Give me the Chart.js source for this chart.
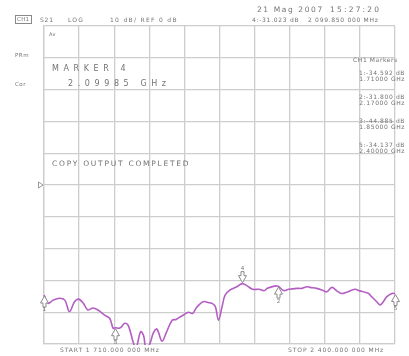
<!DOCTYPE html>
<html>
<head>
<meta charset="utf-8">
<title>S21 LOG</title>
<script src="https://cdn.jsdelivr.net/npm/chart.js@4"></script>
<style>
  html, body { margin: 0; padding: 0; background: #fff; }
  #wrap { width: 409px; height: 356px; }
</style>
</head>
<body>
<div id="wrap"><canvas id="s21" width="409" height="356"></canvas></div>
<script>
// sweep and trace (MHz / dB)
const freqStart = 1710;
const freqStop = 2400;
const refLevel = 0;     // dB
const dbPerDiv = 10;
const refPos = 5;       // division of the reference line

const freqMHz = [1710, 1718, 1728, 1741, 1751, 1760, 1770, 1778, 1787, 1796,
  1806, 1816, 1829, 1839, 1846, 1850, 1859, 1869, 1876, 1886,
  1891, 1900, 1906, 1910, 1917, 1925, 1932, 1942, 1951, 1962,
  1970, 1975, 1984, 1994, 2002, 2010, 2023, 2034, 2042, 2047,
  2053, 2060, 2066, 2076, 2089, 2099.85, 2110, 2120, 2133, 2143,
  2149, 2163, 2170, 2181, 2191, 2207, 2217, 2227, 2233, 2246,
  2259, 2266, 2276, 2285, 2295, 2305, 2321, 2331, 2341, 2348,
  2354, 2364, 2371, 2377, 2384, 2394, 2400];
const traceDb = [-34.592, -37.2, -36.2, -35.6, -36.2, -39.8, -36.7, -35.9, -37.1, -39.3,
  -38.7, -39.3, -40.9, -41.9, -45.1, -44.885, -45.0, -43.5, -44.3, -49.8,
  -51.3, -46.1, -47.5, -50.9, -50.3, -46.5, -45.3, -49.1, -46.2, -42.5,
  -42.3, -41.7, -40.9, -40.0, -40.4, -38.5, -36.7, -37.0, -37.4, -38.3,
  -42.5, -38.3, -34.6, -33.0, -32.0, -31.023, -31.8, -32.8, -32.8, -33.2,
  -32.5, -31.8, -31.800, -33.2, -32.8, -32.5, -32.5, -32.0, -32.2, -32.5,
  -33.2, -33.6, -32.2, -33.2, -34.1, -33.7, -32.8, -33.3, -33.7, -34.1,
  -35.1, -36.7, -37.7, -36.7, -35.1, -34.1, -34.137];

// markers
const markerIds = [1, 2, 3, 4, 5];
const markerMHz = [1710, 2170, 1850, 2099.85, 2400];
const markerDb = [-34.592, -31.800, -44.885, -31.023, -34.137];
const activeMarker = 4;

const tracePts = freqMHz.map((f, i) => ({ x: f, y: traceDb[i] }));

const GRID = '#cdcdcd';
const INK = '#737373';

// "2099.85" -> "2 099.850 000"
function fmtMHz(v) {
  const whole = Math.floor(v);
  const frac = (v - whole).toFixed(6).slice(2);
  let w = String(whole);
  if (w.length > 3) w = w.slice(0, w.length - 3) + ' ' + w.slice(-3);
  return w + '.' + frac.slice(0, 3) + ' ' + frac.slice(3);
}

function txt(ctx, s, x, y, size, spacing, align) {
  ctx.font = size + 'px "DejaVu Sans"';
  ctx.letterSpacing = (spacing || 0) + 'px';
  ctx.textAlign = align || 'left';
  ctx.textBaseline = 'middle';
  ctx.fillText(s, x, y);
}

const annotations = {
  id: 'annotations',
  afterDraw(chart) {
    const ctx = chart.ctx;
    const xs = chart.scales.x, ys = chart.scales.y;
    const a = markerIds.indexOf(activeMarker);
    ctx.save();
    ctx.fillStyle = INK;

    // header
    txt(ctx, '21 Mag 2007', 257, 10, 7.5, 1.6);
    txt(ctx, '15:27:20', 330, 10, 7.5, 2.2);
    ctx.strokeStyle = '#888';
    ctx.lineWidth = 1;
    ctx.strokeRect(15.5, 15.5, 16, 8);
    txt(ctx, 'CH1', 17, 20, 5.5, 0.3);
    txt(ctx, 'S21', 40, 20, 6, 0.8);
    txt(ctx, 'LOG', 68, 20, 6, 1.2);
    txt(ctx, dbPerDiv + ' dB/ REF ' + refLevel + ' dB', 110, 20, 6, 1.3);
    txt(ctx, activeMarker + ':' + markerDb[a].toFixed(3) + ' dB', 252, 20, 6, 0.7);
    txt(ctx, fmtMHz(markerMHz[a]) + ' MHz', 308, 20, 6, 0.7);

    // side labels
    txt(ctx, 'PRm', 15, 56, 5.5, 0.5);
    txt(ctx, 'Cor', 15, 85, 5.5, 0.5);
    txt(ctx, 'Av', 49, 35, 5, 0.3);

    // active marker readout
    txt(ctx, 'MARKER ' + activeMarker, 52, 69, 8, 4.6);
    txt(ctx, (markerMHz[a] / 1000).toFixed(5) + ' GHz', 68, 84, 8, 4.6);
    txt(ctx, 'COPY OUTPUT COMPLETED', 52, 164, 7.5, 1.75);

    // marker list on the right
    txt(ctx, 'CH1 Markers', 353, 60, 6, 0.6);
    const rows = [73, 97, 121, 145];
    let r = 0;
    markerIds.forEach((id, i) => {
      if (id === activeMarker) return;
      const ly = rows[r++];
      txt(ctx, id + ':' + markerDb[i].toFixed(3) + ' dB', 405, ly, 6, 0.6, 'right');
      txt(ctx, (markerMHz[i] / 1000).toFixed(5) + ' GHz', 405, ly + 6.5, 6, 0.6, 'right');
    });

    // sweep limits
    txt(ctx, 'START ' + fmtMHz(freqStart) + ' MHz', 60, 350, 6, 0.9);
    txt(ctx, 'STOP ' + fmtMHz(freqStop) + ' MHz', 288, 350, 6, 0.9);

    // reference line pointer
    const ry = ys.getPixelForValue(refLevel);
    ctx.strokeStyle = '#999';
    ctx.beginPath();
    ctx.moveTo(38.5, ry - 3); ctx.lineTo(43, ry); ctx.lineTo(38.5, ry + 3); ctx.closePath();
    ctx.stroke();

    // marker arrows
    ctx.strokeStyle = '#8a8a8a';
    ctx.lineWidth = 1;
    markerIds.forEach((id, i) => {
      const px = Math.round(xs.getPixelForValue(markerMHz[i])) + 0.5;
      const py = ys.getPixelForValue(markerDb[i]);
      const dir = id === activeMarker ? -1 : 1;   // active marker points down from above
      ctx.beginPath();
      ctx.moveTo(px, py + dir);
      ctx.lineTo(px - 4, py + dir * 8);
      ctx.lineTo(px - 1.5, py + dir * 8);
      ctx.lineTo(px - 1.5, py + dir * 12);
      ctx.lineTo(px + 1.5, py + dir * 12);
      ctx.lineTo(px + 1.5, py + dir * 8);
      ctx.lineTo(px + 4, py + dir * 8);
      ctx.closePath();
      ctx.fillStyle = '#fff';
      ctx.fill();
      ctx.stroke();
      ctx.fillStyle = INK;
      txt(ctx, String(id), px, py + dir * 15, 5.5, 0, 'center');
    });
    ctx.restore();
  }
};

new Chart(document.getElementById('s21'), {
  type: 'line',
  data: {
    datasets: [{
      data: tracePts,
      borderColor: '#b45ec4',
      borderWidth: 1.6,
      pointRadius: 0,
      tension: 0.35,
      clip: 1
    }]
  },
  options: {
    responsive: false,
    animation: false,
    devicePixelRatio: 1,
    layout: { padding: { left: 44, right: 14, top: 26, bottom: 12 } },
    plugins: { legend: { display: false }, tooltip: { enabled: false } },
    scales: {
      x: {
        type: 'linear',
        min: freqStart,
        max: freqStop,
        ticks: { display: false, count: 11 },
        grid: { color: GRID, lineWidth: 1.3, drawTicks: false },
        border: { color: GRID, width: 1.3 }
      },
      y: {
        min: refLevel - refPos * dbPerDiv,
        max: refLevel + (10 - refPos) * dbPerDiv,
        ticks: { display: false, stepSize: dbPerDiv },
        grid: { color: GRID, lineWidth: 1.3, drawTicks: false },
        border: { color: GRID, width: 1.3 }
      }
    }
  },
  plugins: [annotations]
});
</script>
</body>
</html>
